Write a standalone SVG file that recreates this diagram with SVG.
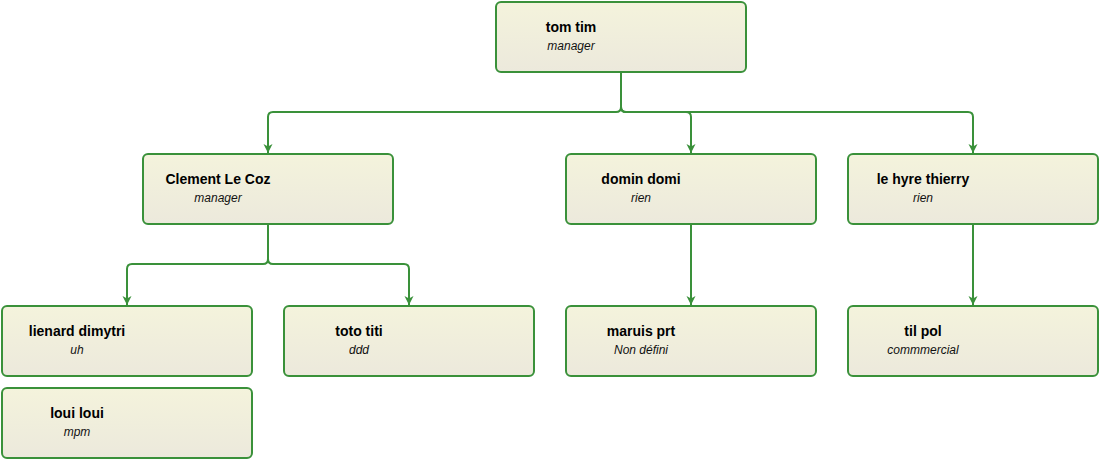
<svg xmlns="http://www.w3.org/2000/svg" width="1100" height="460" viewBox="0 0 1100 460">
<style>
.box{fill:url(#g);stroke:#3a913a;stroke-width:2}
.n{font-family:"Liberation Sans",Arial,sans-serif;font-size:14px;font-weight:bold;fill:#000;text-anchor:middle}
.r{font-family:"Liberation Sans",Arial,sans-serif;font-size:12px;font-style:italic;fill:#111;text-anchor:middle}
.c{fill:none;stroke:#3a913a;stroke-width:2}
</style>
<defs>
<linearGradient id="g" x1="0" y1="0" x2="0" y2="1">
<stop offset="0" stop-color="#f4f3dc"/>
<stop offset="1" stop-color="#ece9dc"/>
</linearGradient>
<marker id="ar" viewBox="0 0 10 10" refX="9" refY="5" markerWidth="10" markerHeight="10" orient="auto" markerUnits="userSpaceOnUse">
<path d="M0,0.5 L9,5 L0,9.5 L2.5,5 Z" fill="#3a913a"/>
</marker>
</defs>
<g id="connectors">
<path class="c" marker-end="url(#ar)" d="M621,72 V107 Q621,112 616,112 H273 Q268,112 268,117 V153"/>
<path class="c" marker-end="url(#ar)" d="M621,72 V107 Q621,112 626,112 H686 Q691,112 691,117 V153"/>
<path class="c" marker-end="url(#ar)" d="M621,72 V107 Q621,112 626,112 H968 Q973,112 973,117 V153"/>
<path class="c" marker-end="url(#ar)" d="M268,224 V259 Q268,264 263,264 H132 Q127,264 127,269 V305"/>
<path class="c" marker-end="url(#ar)" d="M268,224 V259 Q268,264 273,264 H404 Q409,264 409,269 V305"/>
<path class="c" marker-end="url(#ar)" d="M691,224 V305"/>
<path class="c" marker-end="url(#ar)" d="M973,224 V305"/>
</g>
<g id="tom"><rect class="box" x="496" y="2" width="250" height="70" rx="5"/><text class="n" x="571" y="32">tom tim</text><text class="r" x="571" y="50">manager</text></g>
<g id="clement"><rect class="box" x="143" y="154" width="250" height="70" rx="5"/><text class="n" x="218" y="184">Clement Le Coz</text><text class="r" x="218" y="202">manager</text></g>
<g id="domin"><rect class="box" x="566" y="154" width="250" height="70" rx="5"/><text class="n" x="641" y="184">domin domi</text><text class="r" x="641" y="202">rien</text></g>
<g id="lehyre"><rect class="box" x="848" y="154" width="250" height="70" rx="5"/><text class="n" x="923" y="184">le hyre thierry</text><text class="r" x="923" y="202">rien</text></g>
<g id="lienard"><rect class="box" x="2" y="306" width="250" height="70" rx="5"/><text class="n" x="77" y="336">lienard dimytri</text><text class="r" x="77" y="354">uh</text></g>
<g id="toto"><rect class="box" x="284" y="306" width="250" height="70" rx="5"/><text class="n" x="359" y="336">toto titi</text><text class="r" x="359" y="354">ddd</text></g>
<g id="maruis"><rect class="box" x="566" y="306" width="250" height="70" rx="5"/><text class="n" x="641" y="336">maruis prt</text><text class="r" x="641" y="354">Non défini</text></g>
<g id="tilpol"><rect class="box" x="848" y="306" width="250" height="70" rx="5"/><text class="n" x="923" y="336">til pol</text><text class="r" x="923" y="354">commmercial</text></g>
<g id="loui"><rect class="box" x="2" y="388" width="250" height="70" rx="5"/><text class="n" x="77" y="418">loui loui</text><text class="r" x="77" y="436">mpm</text></g>
</svg>
